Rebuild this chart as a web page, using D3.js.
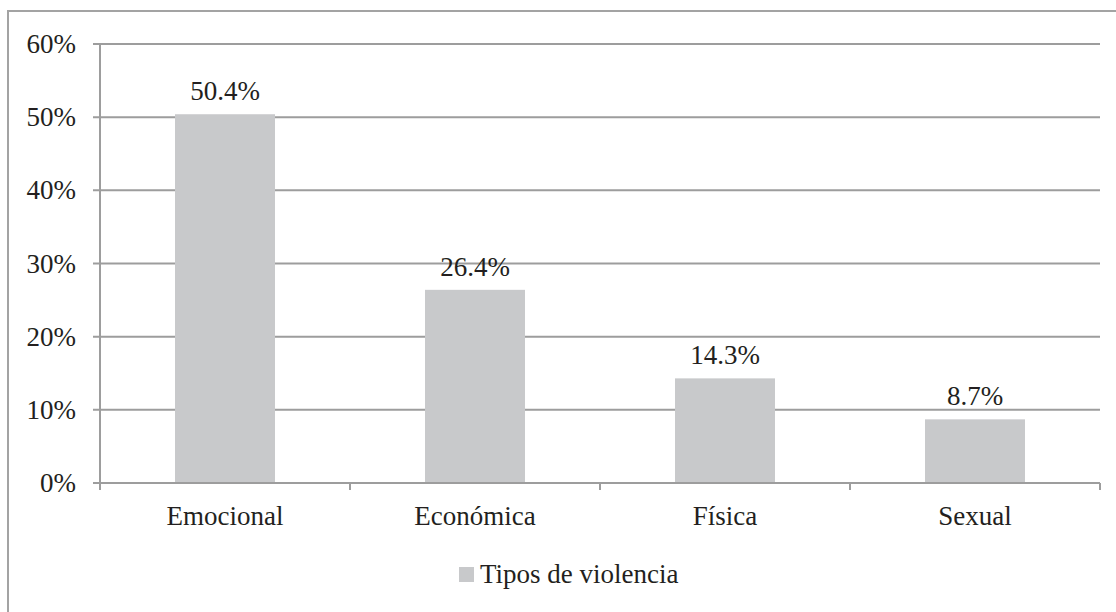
<!DOCTYPE html>
<html>
<head lang="es">
    <meta charset="UTF-8">
    <script type="text/javascript" src="https://cdnjs.cloudflare.com/ajax/libs/d3/7.8.5/d3.min.js"></script>
    <title></title>
</head>
<body style="margin:0;background:#fff">
<script type="text/javascript">
    // datos
    var categorias = ["Emocional", "Económica", "Física", "Sexual"];
    var valores = [50.4, 26.4, 14.3, 8.7];
    var ticksY = [0, 10, 20, 30, 40, 50, 60];
    var serie = "Tipos de violencia";

    var fuente = "'Liberation Serif', 'Times New Roman', serif";
    var w1 = 1116;
    var h1 = 612;
    var svg = d3.select("body")
            .append("svg")
            .attr("width", w1)
            .attr("height", h1)
            .style("font-family", fuente);

    // marco
    svg.append("rect")
            .attr("x", 8).attr("y", 11)
            .attr("width", 1120).attr("height", 620)
            .attr("fill", "none")
            .attr("stroke", "#a3a3a3")
            .attr("stroke-width", 2);

    var x = d3.scaleBand().domain(categorias).range([100, 1100]).paddingInner(0.6).paddingOuter(0.3);
    var xb = d3.scaleBand().domain(categorias).range([100, 1100]);
    var y = d3.scaleLinear().domain([0, 60]).range([483, 44]);

    function texto(sel){
        return sel.attr("font-family", fuente).attr("font-size", 27).attr("fill", "#231f20");
    }

    // rejilla
    svg.selectAll("line.grid").data(ticksY).enter().append("line")
            .attr("x1", 93).attr("x2", 1100)
            .attr("y1", function(d){ return y(d); })
            .attr("y2", function(d){ return y(d); })
            .attr("stroke", "#9d9d9d")
            .attr("stroke-width", 2);

    // eje y
    svg.append("line")
            .attr("x1", 100).attr("x2", 100)
            .attr("y1", y(60)).attr("y2", 490)
            .attr("stroke", "#9d9d9d").attr("stroke-width", 2);

    svg.selectAll("text.ytick").data(ticksY).enter().append("text")
            .call(texto)
            .attr("x", 76)
            .attr("y", function(d){ return y(d) + 9; })
            .attr("text-anchor", "end")
            .text(function(d){ return d + "%"; });

    // marcas eje x
    var bordes = categorias.map(function(c){ return xb(c) + xb.bandwidth(); });
    svg.selectAll("line.xtick").data(bordes).enter().append("line")
            .attr("x1", function(d){ return d; })
            .attr("x2", function(d){ return d; })
            .attr("y1", 483).attr("y2", 490)
            .attr("stroke", "#9d9d9d").attr("stroke-width", 2);

    // barras
    svg.selectAll("rect.bar").data(valores).enter().append("rect")
            .attr("x", function(d, i){ return x(categorias[i]); })
            .attr("y", function(d){ return y(d); })
            .attr("width", x.bandwidth())
            .attr("height", function(d){ return y(0) - y(d); })
            .attr("fill", "#c8c9cb");

    // eje x encima de las barras
    svg.append("line")
            .attr("x1", 100).attr("x2", 1100)
            .attr("y1", y(0)).attr("y2", y(0))
            .attr("stroke", "#9d9d9d").attr("stroke-width", 2);

    // etiquetas de valor
    svg.selectAll("text.val").data(valores).enter().append("text")
            .call(texto)
            .attr("x", function(d, i){ return x(categorias[i]) + x.bandwidth() / 2; })
            .attr("y", function(d){ return y(d) - 14; })
            .attr("text-anchor", "middle")
            .text(function(d){ return d.toFixed(1) + "%"; });

    // categorias
    svg.selectAll("text.cat").data(categorias).enter().append("text")
            .call(texto)
            .attr("x", function(d){ return xb(d) + xb.bandwidth() / 2; })
            .attr("y", 525)
            .attr("text-anchor", "middle")
            .text(function(d){ return d; });

    // leyenda
    svg.append("rect")
            .attr("x", 459).attr("y", 567)
            .attr("width", 15).attr("height", 15)
            .attr("fill", "#c8c9cb");
    svg.append("text")
            .call(texto)
            .attr("x", 480).attr("y", 583)
            .text(serie);
</script>
</body>
</html>
